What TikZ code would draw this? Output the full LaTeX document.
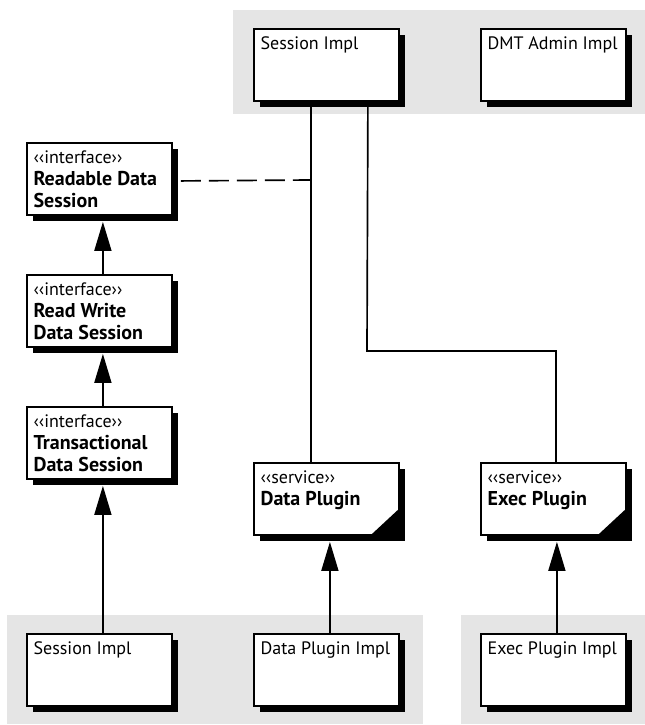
\documentclass[tikz,border=0pt]{standalone}
\usepackage{fontspec}
\setmainfont{PT Sans}
\usetikzlibrary{arrows.meta,shadows}

\newcommand{\bname}[1]{{\fontsize{15}{16.5}\selectfont\bfseries #1}}

\tikzset{
  umlbox/.style={draw, line width=1.4pt, fill=white, anchor=north west,
    minimum width=108.75pt, minimum height=54pt, inner sep=0pt,
    drop shadow={fill=black, opacity=1, shadow xshift=4.5pt, shadow yshift=-4.5pt}},
  boxtext/.style={anchor=north west, inner sep=0pt, align=left, xshift=5.5pt, yshift=-6pt,
    font=\fontsize{13.5}{16.5}\selectfont},
  service/.style={umlbox, path picture={
    \fill[black] (path picture bounding box.south east) -- ++(-21pt,0) -- ++(21pt,19.5pt) -- cycle;}},
  zone/.style={fill=black!10, draw=none},
  conn/.style={line width=1.25pt},
  inherit/.style={conn, -{Triangle[length=21.75pt, width=12.75pt]}},
}

\begin{document}
\begin{tikzpicture}[x=0.75pt, y=-0.75pt]
  \useasboundingbox (0,0) rectangle (645,725);
  % grey groups
  \fill[zone] (233,10) rectangle (645,114);
  \fill[zone] (7,615) rectangle (423,724);
  \fill[zone] (461,615) rectangle (645,724);
  % top row
  \node[umlbox, label={[boxtext]north west:Session Impl}] (sitop) at (253,28) {};
  \node[umlbox, label={[boxtext]north west:DMT Admin Impl}] (dmt) at (480,28) {};
  % interfaces
  \node[umlbox, label={[boxtext]north west:‹‹interface››\\\bname{Readable Data}\\\bname{Session}}] (rds) at (26,142) {};
  \node[umlbox, label={[boxtext]north west:‹‹interface››\\\bname{Read Write}\\\bname{Data Session}}] (rwds) at (26,274) {};
  \node[umlbox, label={[boxtext]north west:‹‹interface››\\\bname{Transactional}\\\bname{Data Session}}] (tds) at (26,406) {};
  % services
  \node[service, label={[boxtext]north west:‹‹service››\\\bname{Data Plugin}}] (dp) at (253,462) {};
  \node[service, label={[boxtext]north west:‹‹service››\\\bname{Exec Plugin}}] (ep) at (480,462) {};
  % implementations
  \node[umlbox, label={[boxtext]north west:Session Impl}] (sibot) at (26,633) {};
  \node[umlbox, label={[boxtext]north west:Data Plugin Impl}] (dpi) at (253,633) {};
  \node[umlbox, label={[boxtext]north west:Exec Plugin Impl}] (epi) at (480,633) {};
  % connectors
  \coordinate (bend) at (367,351);
  \coordinate (dashend) at (310,180);
  \draw[conn] ([xshift=-11.6pt]sitop.south) -- ([xshift=-11.6pt]dp.north);
  \draw[conn] ([xshift=31.1pt]sitop.south) -- (bend) -| ([xshift=1.9pt]ep.north);
  \draw[conn, dash pattern=on 15pt off 6pt] ([xshift=6pt, yshift=-1.5pt]rds.east) -- (dashend);
  \draw[inherit] ([xshift=2.6pt]rwds.north) -- ([xshift=2.6pt, yshift=-4.5pt]rds.south);
  \draw[inherit] ([xshift=2.6pt]tds.north) -- ([xshift=2.6pt, yshift=-4.5pt]rwds.south);
  \draw[inherit] ([xshift=2.6pt]sibot.north) -- ([xshift=2.6pt, yshift=-4.5pt]tds.south);
  \draw[inherit] ([xshift=2.6pt]dpi.north) -- ([xshift=2.6pt, yshift=-4.5pt]dp.south);
  \draw[inherit] ([xshift=2.6pt]epi.north) -- ([xshift=2.6pt, yshift=-4.5pt]ep.south);
\end{tikzpicture}
\end{document}
